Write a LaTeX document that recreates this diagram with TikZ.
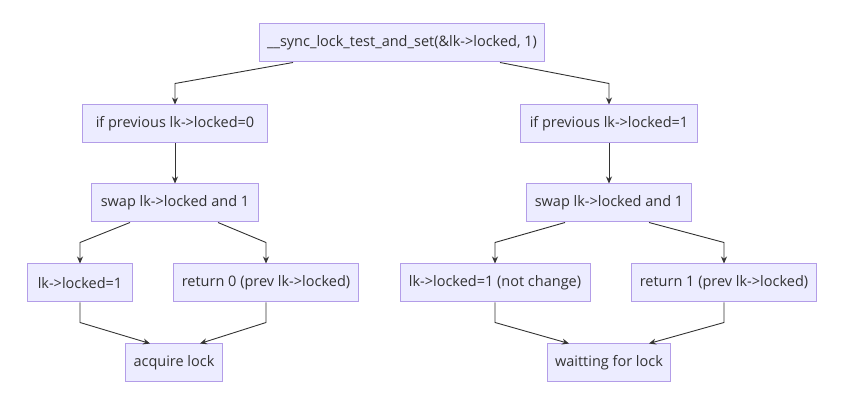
\documentclass[tikz,border=0pt]{standalone}
\usepackage{fontspec}
\setmainfont{Open Sans}
\definecolor{mmfill}{HTML}{ECECFF}
\definecolor{mmstroke}{HTML}{B39DE8}
\definecolor{mmline}{HTML}{333333}
\usetikzlibrary{arrows.meta,positioning,calc}

\begin{document}
\begin{tikzpicture}[
  x=1pt,y=-1pt,
  every node/.style={font=\fontsize{14.5}{16}\selectfont,text=mmline},
  flowbox/.style={draw=mmstroke,fill=mmfill,line width=1pt,
                  minimum height=38pt,inner xsep=8pt,align=center},
  arr/.style={-{Stealth[length=7pt,width=6pt]},line width=0.9pt,mmline},
]
  \useasboundingbox (0,0) rectangle (841,411);

  % Boxes
  \node[flowbox,minimum width=281pt] (test) at (402,43)
    {\_\_sync\_lock\_test\_and\_set(\&lk->locked, 1)};
  \node[flowbox,minimum width=185pt] (prev0) at (175,124) {if previous lk->locked=0};
  \node[flowbox,minimum width=177pt] (prev1) at (609,124) {if previous lk->locked=1};
  \node[flowbox,minimum width=167pt] (swap0) at (175,203) {swap lk->locked and 1};
  \node[flowbox,minimum width=163pt] (swap1) at (609,203) {swap lk->locked and 1};
  \node[flowbox,minimum width=105pt] (set0) at (80,283) {lk->locked=1};
  \node[flowbox,minimum width=183pt] (ret0) at (266,283) {return 0 (prev lk->locked)};
  \node[flowbox,minimum width=190pt] (set1) at (495,283) {lk->locked=1 (not change)};
  \node[flowbox,minimum width=183pt] (ret1) at (724,283) {return 1 (prev lk->locked)};
  \node[flowbox,minimum width=96pt] (acquire) at (174,363) {acquire lock};
  \node[flowbox,minimum width=122pt] (waiting) at (609,363) {waitting for lock};

  % Arrows
  \draw[arr] ([xshift=-109pt]test.south) -- ([yshift=21pt]prev0.north) -- (prev0.north);
  \draw[arr] ([xshift=98pt]test.south) -- ([yshift=21pt]prev1.north) -- (prev1.north);
  \draw[arr] (prev0) -- (swap0);
  \draw[arr] (prev1) -- (swap1);
  \draw[arr] ([xshift=-45pt]swap0.south) -- ([yshift=21pt]set0.north) -- (set0.north);
  \draw[arr] ([xshift=43pt]swap0.south) -- ([yshift=21pt]ret0.north) -- (ret0.north);
  \draw[arr] ([xshift=-44pt]swap1.south) -- ([yshift=21pt]set1.north) -- (set1.north);
  \draw[arr] ([xshift=40pt]swap1.south) -- ([yshift=21pt]ret1.north) -- (ret1.north);
  \draw[arr] (set0.south) -- ([yshift=-20pt]set0.south) -- ([xshift=-24pt]acquire.north);
  \draw[arr] (ret0.south) -- ([yshift=-20pt]ret0.south) -- ([xshift=26pt]acquire.north);
  \draw[arr] (set1.south) -- ([yshift=-20pt]set1.south) -- ([xshift=-40pt]waiting.north);
  \draw[arr] (ret1.south) -- ([yshift=-20pt]ret1.south) -- ([xshift=40pt]waiting.north);
\end{tikzpicture}
\end{document}
